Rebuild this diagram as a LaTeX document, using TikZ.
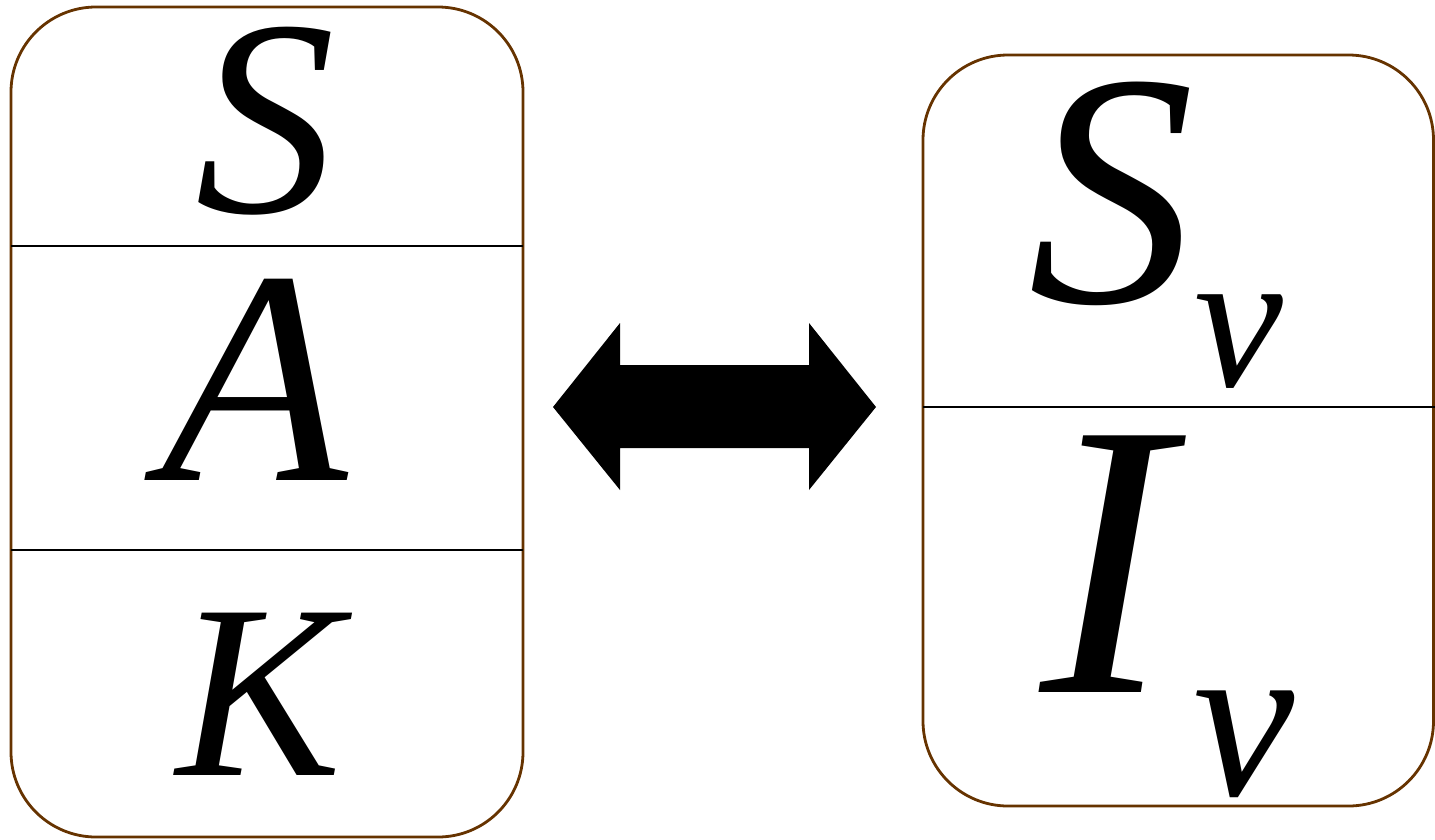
\documentclass[tikz,border=0pt]{standalone}
\usepackage{fontspec}
\setmainfont{Liberation Serif}
\begin{document}
\begin{tikzpicture}[x=1pt,y=-1pt,
  box/.style={draw={rgb,255:red,102;green,51;blue,0},line width=2.8pt,rounded corners=85pt},
  sep/.style={draw=black,line width=2.8pt},
  glyph/.style={inner sep=0pt,anchor=base west,font=\itshape}]
\useasboundingbox (0,0) rectangle (1435,839);
% left box
\draw[box] (11,7) rectangle (523,837);
\draw[sep] (11,246) -- (523,246);
\draw[sep] (11,550) -- (523,550);
% right box
\draw[box] (923,55) rectangle (1433.5,806);
\draw[sep] (923,407) -- (1435,407);
% arrow
\fill[black] (553,407) -- (620,323) -- (620,365) -- (809,365) -- (809,323) -- (876,407)
  -- (809,490) -- (809,448) -- (620,448) -- (620,490) -- cycle;
% letters
\node[glyph,font=\itshape\fontsize{280}{280}\selectfont] (S) at (195,212) {S};
\node[glyph,font=\itshape\fontsize{305}{310}\selectfont] (A) at (161,480) {A};
\node[glyph,font=\itshape\fontsize{248}{250}\selectfont] (K) at (176,775) {K};
\node[glyph,font=\itshape\fontsize{333}{335}\selectfont] (Sv) at (1028,302) {S};
\node[glyph,font=\itshape\fontsize{200}{200}\selectfont] (v1) at (1194,386) {v};
\node[glyph,font=\itshape\fontsize{392}{395}\selectfont] (Iv) at (1040,692) {I};
\node[glyph,font=\itshape\fontsize{228}{230}\selectfont] (v2) at (1193,795) {v};
\end{tikzpicture}
\end{document}
